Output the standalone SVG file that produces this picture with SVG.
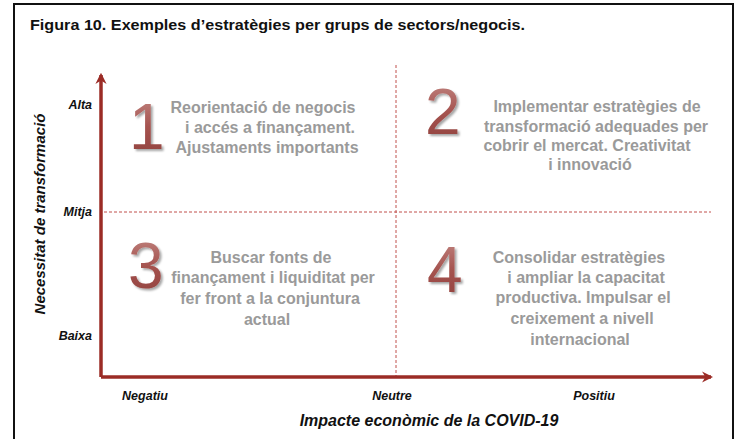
<svg xmlns="http://www.w3.org/2000/svg" width="736" height="439" viewBox="0 0 736 439">
  <defs>
    <linearGradient id="numGrad" x1="0" y1="0" x2="0" y2="1">
      <stop offset="0" stop-color="#C48A86"/>
      <stop offset="0.5" stop-color="#A5534F"/>
      <stop offset="1" stop-color="#8E3F3B"/>
    </linearGradient>
    <filter id="shadow" x="-20%" y="-20%" width="150%" height="150%">
      <feDropShadow dx="2" dy="2" stdDeviation="1.2" flood-color="#000" flood-opacity="0.35"/>
    </filter>
    <marker id="arrow" viewBox="0 0 10 10" refX="8" refY="5" markerWidth="3.2" markerHeight="3.2" orient="auto" markerUnits="strokeWidth">
      <path d="M0,0 L10,5 L0,10 L3,5 Z" fill="#9B2C26"/>
    </marker>
  </defs>
  <style>
    .title { font-family: "Liberation Sans", Arial, sans-serif; font-weight: bold; font-size: 15px; fill: #111; }
    .axislbl { font-family: "Liberation Sans", Arial, sans-serif; font-weight: bold; font-style: italic; font-size: 12.5px; fill: #111; }
    .axistitle { font-family: "Liberation Sans", Arial, sans-serif; font-weight: bold; font-style: italic; font-size: 15px; fill: #111; }
    .qtext { font-family: "Liberation Sans", Arial, sans-serif; font-weight: bold; font-size: 16px; fill: #9A9A9A; text-anchor: middle; }
    .num { font-family: "Liberation Sans", Arial, sans-serif; font-size: 64px; fill: url(#numGrad); filter: url(#shadow); }
    .axis { stroke: #9B2C26; stroke-width: 3.5; fill: none; }
    .dash { stroke: #C0504D; stroke-width: 1; stroke-dasharray: 3 2; fill: none; }
  </style>
  <rect x="0" y="0" width="736" height="439" fill="#fff"/>
  <path d="M14,440 V4 H733 V440" fill="none" stroke="#111" stroke-width="2"/>
  <text class="title" x="30" y="30" textLength="495" lengthAdjust="spacingAndGlyphs">Figura 10. Exemples d’estratègies per grups de sectors/negocis.</text>

  <g id="connectors">
    <line class="dash" x1="396" y1="65" x2="396" y2="376"/>
    <line class="dash" x1="104" y1="212" x2="711" y2="212"/>
    <path class="axis" d="M101,377 V75" marker-end="url(#arrow)"/>
    <path class="axis" d="M101,377 H711" marker-end="url(#arrow)"/>
  </g>

  <g id="y-axis-labels">
    <text class="axislbl" x="92" y="109" text-anchor="end">Alta</text>
    <text class="axislbl" x="92" y="216" text-anchor="end">Mitja</text>
    <text class="axislbl" x="92" y="340" text-anchor="end">Baixa</text>
    <text class="axistitle" transform="translate(45,214) rotate(-90)" text-anchor="middle">Necessitat de transformació</text>
  </g>

  <g id="x-axis-labels">
    <text class="axislbl" x="145" y="400" text-anchor="middle">Negatiu</text>
    <text class="axislbl" x="392" y="400" text-anchor="middle">Neutre</text>
    <text class="axislbl" x="594" y="400" text-anchor="middle">Positiu</text>
    <text class="axistitle" x="429" y="426" text-anchor="middle" style="font-size:16px">Impacte econòmic de la COVID-19</text>
  </g>

  <g id="q1">
    <text class="num" x="129" y="149">1</text>
    <text class="qtext" x="263" y="113">Reorientació de negocis</text>
    <text class="qtext" x="270" y="133">i accés a finançament.</text>
    <text class="qtext" x="267" y="153">Ajustaments importants</text>
  </g>

  <g id="q2">
    <text class="num" x="425" y="134">2</text>
    <text class="qtext" x="597" y="112">Implementar estratègies de</text>
    <text class="qtext" x="596" y="132">transformació adequades per</text>
    <text class="qtext" x="587" y="151">cobrir el mercat. Creativitat</text>
    <text class="qtext" x="590" y="170">i innovació</text>
  </g>

  <g id="q3">
    <text class="num" x="128" y="288">3</text>
    <text class="qtext" x="271" y="263">Buscar fonts de</text>
    <text class="qtext" x="273" y="283">finançament i liquiditat per</text>
    <text class="qtext" x="270" y="304">fer front a la conjuntura</text>
    <text class="qtext" x="267" y="325">actual</text>
  </g>

  <g id="q4">
    <text class="num" x="427" y="292">4</text>
    <text class="qtext" x="579" y="263">Consolidar estratègies</text>
    <text class="qtext" x="586" y="283">i ampliar la capacitat</text>
    <text class="qtext" x="583" y="303">productiva. Impulsar el</text>
    <text class="qtext" x="582" y="324">creixement a nivell</text>
    <text class="qtext" x="580" y="345">internacional</text>
  </g>
</svg>
